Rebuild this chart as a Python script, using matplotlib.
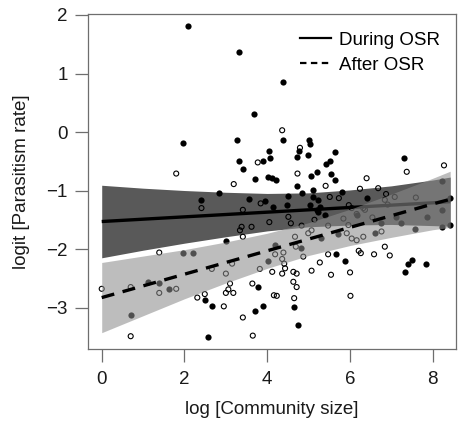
import matplotlib
matplotlib.use("Agg")
import matplotlib.pyplot as plt
from matplotlib.lines import Line2D
import numpy as np

plt.rcParams["font.family"] = ["Liberation Sans", "DejaVu Sans"]

# filled dots: parasitism during the OSR
during_x = [2.09, 3.31, 3.67, 4.39, 1.96, 3.27, 4.38, 3.31, 3.41, 3.90, 4.03, 4.06,
            5.01, 5.03, 4.77, 4.71, 4.98, 5.64, 5.43, 5.51, 5.06, 5.19, 5.55, 5.64,
            4.02, 4.12, 4.21, 3.70, 7.30, 2.84, 2.41, 3.57, 3.95, 4.13, 3.00, 4.19,
            1.96, 2.20, 1.11, 1.39, 1.62, 0.70, 2.49, 2.66, 3.78, 3.71, 3.89, 2.58,
            4.02, 4.73, 4.49, 4.83, 5.11, 5.10, 5.23, 4.48, 5.03, 5.19, 5.23, 5.39,
            5.80, 6.40, 8.21, 6.75, 7.10, 7.23, 7.85, 8.21, 8.23, 8.41, 7.57, 5.72,
            5.31, 6.60, 4.81, 5.65, 5.88, 7.50, 7.39, 7.83, 7.33, 4.65, 4.75, 8.42,
            6.18, 5.27]
during_y = [1.81, 1.36, 0.31, 0.85, -0.18, -0.13, -0.14, -0.50, -0.63, -0.50, -0.32, -0.44,
            -0.14, -0.21, -0.33, -0.42, -0.40, -0.34, -0.54, -0.50, -0.76, -0.69, -0.71, -0.82,
            -0.77, -0.79, -0.82, -0.80, -0.44, -1.05, -1.17, -1.14, -1.18, -1.28, -1.86, -1.93,
            -2.06, -2.06, -2.56, -2.58, -2.68, -3.12, -2.87, -2.98, -2.65, -3.06, -2.98, -3.50,
            -2.21, -0.92, -1.09, -1.05, -0.99, -1.11, -1.16, -1.24, -1.24, -1.33, -1.36, -1.42,
            -1.02, -1.13, -0.84, -1.56, -1.45, -1.56, -1.46, -1.33, -1.63, -1.59, -1.66, -1.75,
            -1.82, -1.73, -1.99, -2.09, -2.21, -2.19, -2.25, -2.25, -2.39, -2.99, -3.29, -1.12,
            -1.42, -1.28]

# open circles: parasitism after the OSR
after_x = [4.36, 3.77, 1.80, 4.79, 4.73, 6.40, 7.37, 8.27, 3.19, 2.41, 3.41, 3.38,
           3.34, 3.62, 3.41, 1.39, 2.66, 3.15, 3.00, 0.00, 0.70, 1.39, 1.80, 2.31,
           2.49, 2.95, 3.10, 3.00, 3.06, 3.18, 3.64, 3.41, 0.70, 3.65, 3.82, 4.12,
           4.16, 4.23, 3.84, 4.05, 4.19, 5.41, 5.51, 5.73, 6.24, 6.68, 6.87, 6.84,
           7.08, 7.59, 5.97, 6.04, 6.36, 4.51, 4.57, 4.83, 5.14, 5.47, 5.84, 5.96,
           6.16, 6.32, 6.54, 5.07, 4.99, 4.67, 5.92, 6.04, 6.16, 6.32, 6.76, 4.39,
           4.36, 4.41, 4.69, 4.87, 5.47, 6.21, 6.26, 6.58, 6.84, 6.96, 5.27, 4.36,
           4.43, 4.63, 4.71, 5.07, 5.54, 6.00, 4.63, 4.71, 4.65, 6.01, 6.91]
after_y = [0.03, -0.52, -0.71, -0.27, -0.71, -0.79, -0.68, -0.57, -0.89, -1.30, -1.33, -1.62,
           -1.68, -1.62, -1.79, -2.06, -2.34, -2.25, -2.42, -2.68, -2.65, -2.75, -2.68, -2.83,
           -2.77, -2.98, -2.59, -2.75, -2.69, -2.75, -2.59, -3.17, -3.49, -3.48, -2.34, -2.39,
           -2.79, -2.80, -1.22, -1.54, -2.09, -0.92, -1.11, -1.13, -0.97, -0.96, -1.06, -1.16,
           -1.11, -1.12, -1.25, -1.30, -1.33, -1.45, -1.56, -1.60, -1.50, -1.60, -1.48, -1.59,
           -1.40, -1.30, -1.46, -1.68, -1.73, -1.79, -1.73, -1.82, -1.85, -1.79, -1.70, -2.06,
           -2.17, -2.25, -1.96, -2.13, -2.09, -2.03, -2.07, -2.09, -1.96, -2.11, -2.23, -2.42,
           -2.33, -2.39, -2.42, -2.37, -2.44, -2.40, -2.56, -2.65, -2.84, -2.80, -1.24]

# fitted lines and confidence bands
band_x = [0, 1, 2, 3, 4, 5, 6, 7, 8, 8.42]
during_fit = [-1.53, -1.49, -1.45, -1.41, -1.37, -1.33, -1.29, -1.25, -1.21, -1.19]
during_lo = [-2.15, -2.02, -1.90, -1.79, -1.69, -1.62, -1.59, -1.58, -1.60, -1.61]
during_hi = [-0.91, -0.96, -1.00, -1.03, -1.05, -1.04, -0.99, -0.92, -0.82, -0.77]
after_fit = [-2.83, -2.63, -2.43, -2.23, -2.03, -1.83, -1.63, -1.43, -1.23, -1.15]
after_lo = [-3.43, -3.14, -2.85, -2.58, -2.33, -2.11, -1.94, -1.80, -1.67, -1.63]
after_hi = [-2.23, -2.12, -2.01, -1.88, -1.73, -1.55, -1.32, -1.06, -0.79, -0.67]

FRAME = "#6e6e6e"
INK = "#1a1a1a"
FS = 13.5

fig = plt.figure(figsize=(4.62, 4.23), dpi=100)
ax = fig.add_axes([0.1905, 0.1749, 0.7965, 0.792])

ax.scatter(during_x, during_y, s=20, c="black", lw=0, zorder=1)
ax.scatter(after_x, after_y, s=13, facecolors="none", edgecolors="black", lw=0.8, zorder=1)

ax.fill_between(band_x, during_lo, during_hi, color="black", alpha=0.65, lw=0, zorder=2)
ax.plot(band_x, during_fit, color="black", lw=2.4, solid_capstyle="butt", zorder=3)
ax.fill_between(band_x, after_lo, after_hi, color="#8c8c8c", alpha=0.57, lw=0, zorder=4)
ax.plot(band_x, after_fit, color="black", lw=2.4, ls=(0, (3.9, 2.6)), zorder=5)

ax.set_xlim(-0.331, 8.56)
ax.set_ylim(-3.709, 2.017)
ax.set_xticks([0, 2, 4, 6, 8])
ax.set_yticks([-3, -2, -1, 0, 1, 2])
ax.set_yticklabels(["\u22123", "\u22122", "\u22121", "0", "1", "2"])
for sp in ax.spines.values():
    sp.set_color(FRAME)
    sp.set_linewidth(0.9)
ax.tick_params(direction="out", length=9.5, width=0.9, color=FRAME, labelsize=FS,
               labelcolor=INK)
ax.tick_params(axis="x", pad=6)
ax.tick_params(axis="y", pad=5)
ax.set_xlabel("log [Community size]", fontsize=FS, color=INK, labelpad=10)
ax.set_ylabel("logit [Parasitism rate]", fontsize=FS, color=INK, labelpad=12)

handles = [Line2D([], [], color="black", lw=1.6),
           Line2D([], [], color="black", lw=1.6, ls=(0, (2.9, 2.0)))]
ax.legend(handles, ["During OSR", "After OSR"], loc="upper right", frameon=False,
          fontsize=FS, handlelength=1.65, handletextpad=0.45, labelspacing=0.4,
          borderaxespad=0.55, bbox_to_anchor=(1.005, 1.0))

fig.savefig("out.png", dpi=100)
